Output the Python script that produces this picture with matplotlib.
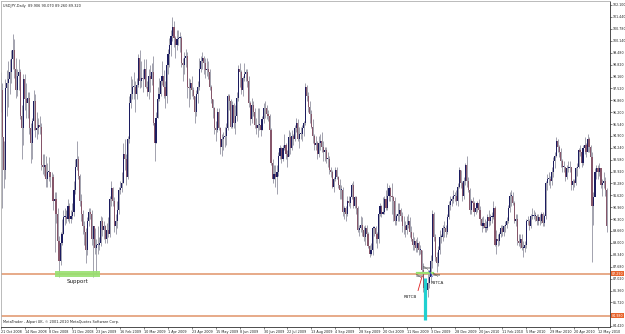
import matplotlib
matplotlib.use('Agg')
import matplotlib.pyplot as plt
import matplotlib.transforms as mtransforms
import pandas as pd

# ---------------- data (USDJPY daily) ----------------
first_open = 101.6
closes = [
 # Oct 2008
 100.1, 97.2, 97.4, 94.8, 93.0, 97.5, 97.8, 98.0, 98.4,
 # Nov 2008
 99.1, 99.6, 98.6, 97.4, 98.2, 98.4, 96.0, 95.3, 98.0, 96.9, 96.7, 97.0, 95.3, 94.5, 95.7, 96.8, 95.2, 95.3, 95.5, 95.4,
 # Dec 2008
 93.3, 93.2, 93.3, 92.5, 92.9, 92.9, 92.6, 92.6, 91.3, 91.4, 90.6, 89.1, 88.0, 89.0, 89.5, 90.4, 90.4, 90.3, 91.0, 90.3, 90.5, 90.7,
 # Jan 2009
 91.9, 93.2, 93.6, 92.7, 91.3, 90.6, 89.9, 89.6, 88.6, 90.2, 90.7, 90.6, 89.2, 89.9, 88.7, 88.9, 88.9, 89.0, 90.2, 89.7, 89.9,
 # Feb 2009
 89.2, 89.7, 89.5, 91.4, 92.0, 91.3, 89.9, 90.2, 90.8, 91.9, 92.0, 92.3, 93.9, 93.6, 92.6, 94.7, 96.7, 97.2, 97.6, 97.6,
 # Mar 2009
 97.2, 97.7, 99.2, 97.9, 98.1, 98.0, 98.6, 97.6, 97.3, 98.2, 98.0, 98.4, 95.6, 94.5, 95.9, 96.9, 97.2, 97.9, 98.2, 97.6, 97.1, 98.8,
 # Apr 2009
 99.4, 99.9, 100.4, 100.9, 100.3, 99.9, 100.2, 100.3, 100.3, 98.9, 98.8, 99.2, 99.3, 97.6, 97.5, 97.8, 97.4, 97.1, 96.2, 97.2, 97.6, 98.6,
 # May 2009
 99.0, 99.2, 98.9, 98.5, 98.6, 98.4, 97.6, 96.9, 96.4, 95.3, 95.2, 96.2, 95.3, 94.3, 94.7, 94.8, 94.9, 95.3, 97.1, 96.8, 95.4,
 # Jun 2009
 96.6, 95.6, 96.0, 97.0, 98.6, 98.4, 97.4, 98.1, 98.3, 98.4, 97.9, 96.7, 95.8, 96.6, 96.2, 95.5, 95.3, 95.5, 95.5, 95.2, 95.8, 96.4,
 # Jul 2009
 96.4, 96.1, 96.0, 95.2, 93.4, 92.5, 92.8, 92.6, 92.9, 93.8, 94.2, 93.6, 94.2, 94.4, 93.9, 93.7, 94.8, 94.2, 94.9, 94.7, 95.3, 95.6, 94.7,
 # Aug 2009
 95.0, 95.0, 95.3, 95.6, 97.6, 97.1, 96.5, 96.1, 95.4, 94.9, 94.4, 94.5, 93.9, 94.5, 94.6, 94.3, 94.0, 94.1, 93.6, 93.6, 93.0,
 # Sep 2009
 92.9, 92.1, 92.5, 93.0, 92.6, 92.2, 91.9, 91.9, 90.7, 90.9, 90.6, 91.3, 91.2, 91.5, 92.2, 91.0, 91.5, 90.9, 89.7, 89.8, 90.0, 89.7,
 # Oct 2009
 89.3, 89.8, 89.5, 88.8, 88.4, 88.6, 89.8, 89.8, 89.5, 89.2, 90.6, 91.0, 90.6, 90.7, 91.4, 90.9, 91.6, 92.0, 91.6, 91.5, 91.3, 90.2,
 # Nov 2009
 90.5, 90.6, 90.8, 90.5, 89.9, 89.9, 89.7, 90.0, 90.2, 89.6, 89.2, 88.9, 89.1, 88.7, 89.0, 88.6, 88.6, 87.5, 86.5, 86.3, 86.4,
 # Dec 2009
 86.8, 87.1, 88.0, 90.6, 89.3, 88.2, 87.9, 88.6, 89.3, 89.3, 89.8, 89.8, 89.6, 90.4, 91.1, 91.3, 91.4, 91.6, 91.6, 91.3, 92.1, 93.0,
 # Jan 2010
 92.3, 91.6, 92.4, 93.3, 92.4, 91.9, 90.8, 91.3, 91.2, 90.7, 90.9, 91.2, 90.8, 90.3, 89.9, 90.1, 89.8, 89.8, 90.4, 90.2,
 # Feb 2010
 90.4, 90.4, 90.9, 88.9, 89.2, 89.1, 89.5, 89.8, 89.6, 89.9, 90.0, 90.2, 90.9, 91.6, 91.6, 91.2, 90.2, 90.3, 89.1, 89.0,
 # Mar 2010
 89.2, 88.7, 88.7, 88.9, 90.2, 90.2, 89.9, 90.5, 90.5, 90.5, 90.5, 90.2, 90.4, 90.2, 90.6, 90.1, 90.5, 92.3, 92.5, 92.5, 92.4, 92.9, 93.5,
 # Apr 2010
 93.8, 94.6, 94.3, 94.0, 93.5, 93.2, 93.2, 92.6, 93.1, 93.1, 93.2, 92.2, 92.4, 92.3, 93.1, 93.2, 94.1, 94.0, 93.4, 94.2, 94.4, 94.0,
 # May 2010
 94.7, 94.3, 93.7, 91.0, 91.5, 92.9, 93.1, 92.9, 93.1, 92.2, 92.3, 92.4, 91.9, 89.9,
]
highs = [
 101.8, 100.3, 98.4, 97.8, 94.6, 98.0, 98.5, 99.0, 99.1,
 99.6, 100.5, 100.2, 99.2, 98.6, 99.1, 98.6, 96.6, 98.3, 98.3, 97.8, 97.3, 97.3, 95.6, 95.9, 97.4, 97.2, 96.2, 95.9, 96.0,
 95.6, 93.9, 93.9, 93.8, 93.4, 93.7, 92.9, 92.9, 92.8, 91.8, 91.8, 90.9, 89.4, 89.6, 90.3, 90.8, 90.9, 90.8, 91.4, 91.2, 90.8, 91.2,
 92.4, 93.6, 94.6, 93.8, 92.8, 91.7, 90.8, 90.2, 89.8, 90.4, 90.9, 90.9, 90.8, 89.9, 89.8, 89.2, 89.9, 89.3, 90.5, 90.4, 90.2,
 90.0, 90.1, 90.4, 91.6, 92.4, 92.1, 91.5, 90.6, 91.3, 92.1, 92.4, 92.9, 94.5, 94.7, 93.9, 94.9, 97.1, 98.2, 98.0, 98.4,
 97.9, 98.1, 99.4, 99.6, 99.0, 98.6, 99.1, 99.1, 97.9, 98.6, 98.8, 98.9, 99.3, 95.8, 96.2, 97.6, 98.1, 98.1, 99.0, 98.5, 97.9, 99.1,
 99.7, 100.3, 100.7, 101.44, 101.2, 100.4, 100.7, 100.7, 100.6, 100.4, 99.2, 99.5, 99.7, 99.5, 98.1, 98.0, 98.2, 97.6, 97.1, 97.4, 97.9, 99.2,
 99.3, 99.5, 99.3, 99.2, 99.2, 99.0, 98.6, 97.7, 96.9, 96.5, 95.7, 96.4, 96.4, 95.4, 95.0, 95.1, 95.4, 95.6, 97.2, 97.2, 96.9,
 96.8, 96.7, 96.6, 97.3, 98.8, 98.9, 98.5, 98.2, 98.9, 98.6, 98.6, 98.2, 96.8, 97.0, 96.8, 96.4, 95.9, 96.4, 96.4, 95.8, 96.0, 96.7,
 96.8, 96.6, 96.3, 96.1, 95.3, 93.6, 93.3, 93.3, 93.3, 94.0, 94.4, 94.3, 94.4, 95.0, 94.5, 94.1, 95.2, 95.1, 95.2, 95.0, 95.5, 95.9, 95.8,
 95.4, 95.4, 95.5, 95.7, 97.8, 97.7, 97.3, 96.8, 96.3, 95.8, 95.0, 94.9, 94.6, 94.9, 95.0, 95.1, 94.6, 94.3, 94.3, 94.0, 93.8,
 93.2, 93.0, 92.6, 93.2, 93.2, 92.7, 92.5, 92.2, 92.1, 91.0, 91.0, 91.6, 91.6, 91.6, 92.3, 92.4, 91.6, 91.6, 91.0, 90.0, 90.5, 90.4,
 89.9, 90.0, 90.0, 89.6, 88.9, 89.0, 89.9, 89.9, 89.9, 89.6, 90.8, 91.2, 91.1, 91.5, 91.6, 91.9, 92.3, 92.2, 92.1, 92.3, 91.6, 91.5,
 90.6, 91.2, 91.2, 90.9, 90.7, 90.5, 90.2, 90.5, 90.6, 90.4, 89.9, 89.6, 89.3, 89.2, 89.3, 89.1, 88.9, 88.6, 87.9, 86.8, 86.8,
 87.5, 87.4, 88.3, 90.8, 90.7, 89.5, 88.5, 88.8, 89.7, 89.5, 90.0, 90.2, 90.0, 90.6, 91.3, 91.6, 91.6, 91.9, 91.8, 91.9, 92.3, 93.2,
 93.0, 92.4, 92.6, 93.4, 93.8, 92.6, 92.0, 91.4, 91.5, 91.3, 91.0, 91.3, 91.4, 91.0, 90.4, 90.5, 90.3, 90.2, 90.6, 90.8,
 90.6, 90.7, 91.3, 91.0, 89.7, 89.5, 89.6, 90.0, 90.0, 90.0, 90.2, 90.4, 91.1, 91.8, 91.9, 91.8, 91.3, 90.6, 90.6, 89.5,
 89.5, 89.5, 89.1, 89.1, 90.3, 90.5, 90.3, 90.6, 90.9, 90.8, 90.7, 90.6, 90.6, 90.6, 90.7, 90.7, 90.6, 92.4, 92.8, 92.9, 92.7, 93.2, 93.7,
 94.0, 94.8, 94.7, 94.4, 94.2, 93.6, 93.5, 93.2, 93.3, 93.5, 93.5, 93.2, 92.5, 92.5, 93.2, 93.4, 94.2, 94.4, 94.1, 94.4, 94.8, 94.5,
 94.99, 94.8, 94.4, 94.0, 91.8, 93.1, 93.3, 93.3, 93.4, 93.0, 92.5, 92.9, 92.6, 92.0,
]
lows = [
 99.3, 96.8, 96.2, 90.9, 92.0, 92.5, 96.0, 96.5, 97.2,
 97.8, 98.6, 98.1, 97.0, 97.1, 97.4, 95.8, 93.6, 94.4, 96.3, 95.9, 95.9, 95.0, 93.4, 93.6, 95.2, 94.8, 94.7, 95.0, 95.0,
 93.0, 92.8, 92.7, 92.1, 92.1, 92.4, 92.1, 92.2, 90.8, 88.5, 90.1, 88.9, 87.13, 87.8, 88.9, 89.5, 90.0, 90.1, 90.2, 90.1, 90.1, 90.3,
 90.5, 91.7, 93.0, 92.5, 91.0, 90.2, 89.5, 88.9, 87.9, 88.3, 89.9, 90.3, 88.9, 87.1, 88.4, 87.3, 88.4, 88.6, 88.8, 89.4, 89.2,
 89.0, 89.0, 89.3, 89.3, 91.0, 91.0, 89.6, 89.5, 89.8, 90.6, 91.7, 91.8, 92.3, 93.0, 92.2, 92.5, 94.5, 96.4, 96.9, 96.9,
 96.2, 96.9, 97.6, 97.5, 97.6, 97.3, 98.0, 97.5, 97.1, 96.9, 97.3, 97.7, 95.5, 93.5, 94.5, 95.9, 96.8, 97.1, 97.7, 97.0, 96.4, 96.7,
 98.3, 98.7, 99.3, 100.1, 99.8, 99.2, 99.6, 99.9, 99.5, 98.7, 97.9, 98.3, 98.7, 97.0, 96.5, 96.9, 97.1, 96.9, 95.6, 96.0, 96.7, 97.4,
 98.4, 98.6, 98.3, 98.1, 98.2, 98.0, 97.4, 96.7, 95.9, 95.0, 94.6, 95.1, 95.2, 93.9, 93.8, 94.1, 94.3, 94.4, 95.2, 96.3, 95.3,
 95.3, 95.3, 95.0, 95.7, 96.8, 97.6, 97.2, 97.1, 97.9, 97.9, 97.6, 96.5, 95.5, 95.6, 96.0, 95.3, 95.0, 94.8, 95.2, 94.9, 95.2, 95.6,
 95.9, 95.8, 95.7, 95.0, 93.3, 92.3, 92.5, 92.1, 91.7, 92.7, 93.6, 93.4, 93.5, 94.1, 93.6, 93.2, 93.8, 93.9, 94.1, 94.4, 94.6, 95.1, 94.6,
 94.2, 94.7, 94.6, 94.9, 95.5, 96.8, 96.2, 95.6, 95.3, 94.5, 94.1, 94.1, 93.6, 93.7, 94.1, 94.0, 93.5, 93.5, 93.4, 93.2, 92.8,
 92.6, 92.0, 91.8, 92.4, 92.5, 92.0, 91.4, 91.4, 90.5, 90.3, 90.2, 90.5, 91.0, 90.9, 91.4, 90.9, 90.9, 90.6, 89.6, 89.4, 89.6, 89.4,
 89.1, 88.9, 89.3, 88.7, 88.2, 88.3, 88.3, 89.4, 89.0, 88.7, 89.0, 90.5, 90.4, 90.6, 90.6, 90.8, 90.8, 91.3, 91.3, 90.6, 90.2, 90.0,
 90.0, 90.2, 90.2, 90.2, 89.6, 89.5, 89.3, 89.5, 89.8, 89.3, 89.1, 88.6, 88.6, 88.5, 88.5, 88.3, 88.4, 87.3, 86.3, 84.82, 85.9,
 86.0, 86.5, 86.9, 87.6, 89.1, 88.0, 87.4, 87.7, 88.4, 89.0, 89.1, 89.3, 89.3, 89.5, 90.3, 90.8, 91.0, 91.2, 91.3, 91.1, 91.0, 92.0,
 92.0, 91.3, 91.4, 92.2, 92.1, 91.8, 90.6, 90.6, 90.9, 90.5, 90.6, 90.7, 90.5, 90.0, 89.6, 89.8, 89.6, 89.6, 89.7, 89.9,
 90.0, 90.1, 90.3, 88.8, 88.4, 88.8, 88.9, 89.3, 89.4, 89.4, 89.6, 89.8, 90.1, 90.7, 91.0, 91.1, 90.1, 89.9, 88.9, 88.8,
 88.7, 88.6, 88.2, 88.5, 88.7, 90.0, 89.7, 89.8, 90.3, 90.3, 90.2, 90.0, 90.0, 90.0, 90.1, 89.9, 89.9, 90.3, 91.9, 92.2, 92.0, 92.2, 92.6,
 93.1, 93.7, 94.0, 93.7, 93.2, 92.9, 92.9, 92.4, 92.5, 92.9, 92.9, 91.9, 91.9, 92.1, 92.2, 92.7, 93.1, 93.8, 93.2, 93.3, 93.9, 93.7,
 94.0, 94.0, 93.4, 87.95, 90.0, 91.6, 92.5, 92.5, 92.7, 92.0, 91.6, 92.0, 91.6, 89.6,
]

price_labels = ['102.100', '101.440', '100.780', '100.140', '99.480', '98.820', '98.160',
                '97.520', '96.860', '96.200', '95.540', '94.900', '94.240', '93.580',
                '92.920', '92.280', '91.620', '90.960', '90.300', '89.660', '89.000',
                '88.340', '87.680', '87.020', '86.360', '85.720', '85.060', '84.420']
date_labels = ['21 Oct 2008', '14 Nov 2008', '8 Dec 2008', '31 Dec 2008', '23 Jan 2009',
               '16 Feb 2009', '10 Mar 2009', '1 Apr 2009', '23 Apr 2009', '15 May 2009',
               '8 Jun 2009', '30 Jun 2009', '22 Jul 2009', '13 Aug 2009', '4 Sep 2009',
               '28 Sep 2009', '20 Oct 2009', '11 Nov 2009', '3 Dec 2009', '28 Dec 2009',
               '20 Jan 2010', '11 Feb 2010', '5 Mar 2010', '29 Mar 2010', '20 Apr 2010',
               '12 May 2010']
support_levels = [87.29, 84.98]
support_level_labels = ['87.290', '84.980']
title_text = 'USDJPY,Daily  89.906 90.070 89.260 89.320'
footer_text = 'MetaTrader - Alpari UK, \u00a9 2001-2010 MetaQuotes Software Corp.'

# ---------------- calendar ----------------
days = pd.bdate_range('2008-10-21', '2010-05-20')
days = [d for d in days if not ((d.month == 12 and d.day == 25) or (d.month == 1 and d.day == 1))]
idx_of = {d.strftime('%Y-%m-%d'): i for i, d in enumerate(days)}
n = min(len(days), len(closes), len(highs), len(lows))
opens = [first_open] + closes[:-1]

# ---------------- figure ----------------
W, H = 625, 334
fig = plt.figure(figsize=(W / 100, H / 100), dpi=100)
fig.patch.set_facecolor('white')
ax = fig.add_axes([1 / W, 7 / H, 609 / W, 326 / H])
ax.set_facecolor('white')

x_left, x_right = 2.14, 410.06
y_bot, y_top = 84.36, 102.32
ax.set_xlim(x_left, x_right)
ax.set_ylim(y_bot, y_top)

bull_c = '#1c1c60'
bear_c = '#86566a'
wick_c = '#a2a2ae'

xs = list(range(n))
ax.vlines(xs, lows[:n], highs[:n], colors=wick_c, linewidth=0.7, zorder=2)
bot = [min(opens[i], closes[i]) for i in range(n)]
hgt = [max(abs(closes[i] - opens[i]), 0.05) for i in range(n)]
cols = [bull_c if closes[i] >= opens[i] else bear_c for i in range(n)]
ax.bar(xs, hgt, bottom=bot, width=0.75, color=cols, linewidth=0, zorder=3)

# horizontal levels
for lv in support_levels:
    ax.axhline(lv, color='#e39c74', linewidth=1.2, zorder=1)

# support highlight (Dec 2008 - Jan 2009)
s0 = idx_of['2008-12-12'] + 0.3
s1 = idx_of['2009-01-26'] + 1.3
ax.add_patch(plt.Rectangle((s0, 87.13), s1 - s0, 0.30, color='#98e070', alpha=0.9, zorder=4, linewidth=0))
ax.text((s0 + s1) / 2, 86.87, 'Support', fontsize=4, ha='center', va='center', color='#202020', zorder=6)

# Nov 2009 annotations
nv = idx_of['2009-11-27']
ax.plot([nv - 5.5, nv + 5.5], [87.35, 87.35], color='#98e070', linewidth=1.6, zorder=4)
ax.plot([nv, nv], [84.74, 87.05], color='#20d0d0', linewidth=2.3, zorder=5, solid_capstyle='butt')
ax.plot([nv - 4.5, nv - 1.8], [86.37, 87.15], color='#e02020', linewidth=0.6, zorder=5)
ax.plot([nv + 5.0, nv + 3.0], [87.15, 87.45], color='#2030c0', linewidth=0.6, zorder=5)
fs_a = 3.0
ax.text(nv - 1.5, 87.62, 'Sup', fontsize=fs_a, ha='left', va='center', color='#202020', zorder=6)
ax.text(nv - 6.0, 87.15, 'Sup', fontsize=fs_a, ha='left', va='center', color='#202020', zorder=4)
ax.text(nv + 5.5, 87.20, 'Sup', fontsize=fs_a, ha='left', va='center', color='#202020', zorder=6)
ax.text(nv + 4.2, 86.80, 'PBTCA', fontsize=fs_a, ha='left', va='center', color='#202020', zorder=6)
ax.text(nv - 14.0, 86.00, 'PBTCB', fontsize=fs_a, ha='left', va='center', color='#202020', zorder=6)

# spines
for s in ['left', 'top']:
    ax.spines[s].set_color('#b0b0b0')
    ax.spines[s].set_linewidth(0.6)
for s in ['right', 'bottom']:
    ax.spines[s].set_color('#303030')
    ax.spines[s].set_linewidth(0.6)

# price axis on the right
ax.yaxis.tick_right()
ax.set_yticks([float(t) for t in price_labels])
ax.set_yticklabels(price_labels)
ax.tick_params(axis='y', direction='out', length=1.2, width=0.4, pad=0.6,
               labelsize=2.3, colors='#202020')

# date axis
xt = []
for lab in date_labels:
    key = pd.to_datetime(lab, format='%d %b %Y').strftime('%Y-%m-%d')
    xt.append(max(idx_of[key], x_left + 0.2))
ax.set_xticks(xt)
ax.set_xticklabels(date_labels)
for t in ax.get_xticklabels():
    t.set_ha('left')
ax.tick_params(axis='x', direction='out', length=1.5, width=0.4, pad=0.8,
               labelsize=2.4, colors='#202020')

# level labels on price axis
tr = mtransforms.blended_transform_factory(ax.transAxes, ax.transData)
for lv, lab in zip(support_levels, support_level_labels):
    ax.text(1.003, lv, lab, transform=tr, fontsize=2.3, color='white', ha='left', va='center',
            bbox=dict(boxstyle='square,pad=0.2', facecolor='#e8642c', edgecolor='none'),
            clip_on=False, zorder=10)

ax.text(0.003, 0.992, title_text, transform=ax.transAxes, fontsize=2.5, ha='left', va='top', color='#202020')
ax.text(0.003, 0.008, footer_text, transform=ax.transAxes, fontsize=2.5, ha='left', va='bottom', color='#202020')

fig.savefig('out.png', dpi=100, facecolor='white')
